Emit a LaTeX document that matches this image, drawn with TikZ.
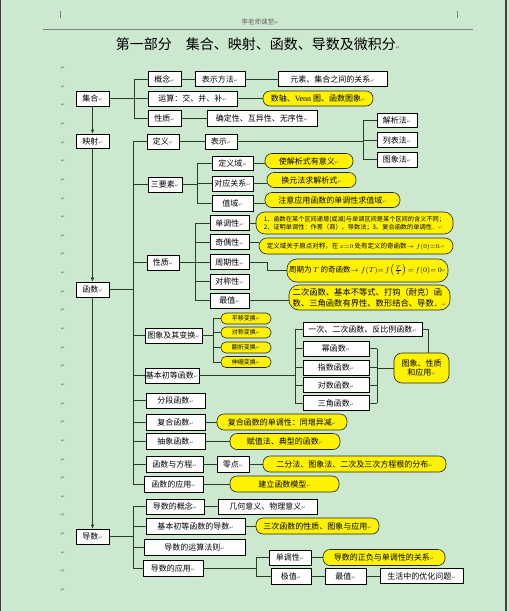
\documentclass[tikz,border=0pt]{standalone}
\usepackage{fontspec}
\setmainfont{Noto Sans CJK SC}
\newfontfamily\arrowfont{DejaVu Sans}
\newfontfamily\latinserif{Liberation Serif}
\usetikzlibrary{arrows.meta}
\definecolor{bgcol}{RGB}{204,232,207}
\definecolor{linkcol}{RGB}{40,60,40}
\definecolor{retcol}{RGB}{110,110,110}
\newcommand{\ret}{{\arrowfont\fontsize{5}{5}\selectfont\textcolor{retcol}{↵}}}

\begin{document}
\begin{tikzpicture}[x=1pt,y=-1pt]
    % Define styles for boxes and connectors
    \tikzset{
        whitebox/.style={draw=black, fill=white, line width=0.6pt, inner sep=0pt, minimum height=15pt, font=\fontsize{8}{9}\selectfont},
        yellownote/.style={draw=black!85, fill=yellow, line width=0.6pt, inner sep=0pt, minimum height=15pt, rounded corners=7pt, font=\fontsize{8}{9}\selectfont},
        smallnote/.style={yellownote, minimum width=50pt, minimum height=11pt, rounded corners=5pt, font=\fontsize{6}{6}\selectfont},
        link/.style={draw=linkcol, line width=0.7pt},
        downarrow/.style={link, -{Latex[length=4pt,width=3.5pt]}},
        retmark/.style={font=\arrowfont\fontsize{5}{5}\selectfont, text=retcol, inner sep=0pt}
    }

    % page
    \fill[bgcol] (0,0) rectangle (509,611);
    \useasboundingbox (0,0) rectangle (509,611);
    \draw[black!75, line width=1.2pt] (0.6,0) -- (0.6,611);
    \draw[black!75, line width=1.5pt] (506,0) -- (506,611);

    % header and title
    \draw[gray, line width=0.5pt] (43,29) -- (473,29);
    \draw[gray, line width=0.4pt] (60,11) -- (60,18);
    \draw[gray, line width=0.4pt] (457,11) -- (457,18);
    \node[font=\fontsize{6.5}{7}\selectfont, text=black!60] (header) at (260,22) {李老师课堂\ret};
    \node[font=\fontsize{14}{15}\selectfont] (title) at (258,44) {第一部分\quad 集合、映射、函数、导数及微积分\ret};

    % paragraph marks in the margin
    \foreach \i in {0,...,28} { \node[retmark] (mark\i) at (63,{68+18.64*\i}) {↵}; }

    % ==========================================
    % 集合
    % ==========================================
    \node[whitebox, minimum width=33pt] (jihe) at (92.5,98.5) {集合\ret};
    \node[whitebox, minimum width=33pt] (gainian) at (164.5,79) {概念\ret};
    \node[whitebox, minimum width=50pt] (fangfa) at (220,79) {表示方法\ret};
    \node[whitebox, minimum width=109pt] (guanxi) at (332.5,79) {元素、集合之间的关系\ret};
    \node[whitebox, minimum width=89pt] (yunsuan) at (192.5,98.5) {运算：交、并、补\ret};
    \node[yellownote, minimum width=110pt] (tuxiangA) at (318,98.5) {数轴、{\latinserif Venn} 图、函数图象\ret};
    \node[whitebox, minimum width=33pt, minimum height=16pt] (xingzhiA) at (164.5,118.5) {性质\ret};
    \node[whitebox, minimum width=110pt, minimum height=16pt] (texing) at (262,118.5) {确定性、互异性、无序性\ret};

    \coordinate (busJ) at (134,0);
    \draw[link] (jihe.east) -- (jihe.east -| busJ);
    \draw[link] (busJ |- gainian.west) -- (busJ |- xingzhiA.west);
    \foreach \n in {gainian, yunsuan, xingzhiA} { \draw[link] (busJ |- \n.west) -- (\n.west); }
    \draw[link] (gainian) -- (fangfa);
    \draw[link] (fangfa) -- (guanxi);
    \draw[link] (yunsuan) -- (tuxiangA);
    \draw[link] (xingzhiA) -- (texing);

    % ==========================================
    % 映射
    % ==========================================
    \node[whitebox, minimum width=33pt, minimum height=14pt] (yingshe) at (92.5,141) {映射\ret};
    \node[whitebox, minimum width=32pt] (dingyi) at (163,141.5) {定义\ret};
    \node[whitebox, minimum width=32pt] (biaoshi) at (221,141.5) {表示\ret};
    \node[whitebox, minimum width=40pt, minimum height=14pt] (jiexifa) at (397,120) {解析法\ret};
    \node[whitebox, minimum width=40pt] (liebiaofa) at (397,140) {列表法\ret};
    \node[whitebox, minimum width=40pt] (tuxiangfa) at (397,159.5) {图象法\ret};

    \draw[link] (dingyi) -- (biaoshi);
    \coordinate (busB) at (363,0);
    \draw[link] (biaoshi.east) -- (biaoshi.east -| busB);
    \draw[link] (busB |- jiexifa.west) -- (busB |- tuxiangfa.west);
    \foreach \n in {jiexifa, liebiaofa, tuxiangfa} { \draw[link] (busB |- \n.west) -- (\n.west); }

    % 三要素
    \node[whitebox, minimum width=34pt] (sanyaosu) at (165,184.5) {三要素\ret};
    \node[whitebox, minimum width=41pt, minimum height=14pt] (dingyiyu) at (232.5,163.5) {定义域\ret};
    \node[whitebox, minimum width=41pt] (duiying) at (232.5,183.5) {对应关系\ret};
    \node[whitebox, minimum width=41pt, minimum height=16pt] (zhiyu) at (232.5,203) {值域\ret};
    \node[yellownote, minimum width=88pt] (yiyi) at (309,161) {使解析式有意义\ret};
    \node[yellownote, minimum width=89pt] (huanyuan) at (311.5,180) {换元法求解析式\ret};
    \node[yellownote, minimum width=135pt] (qiuzhiyu) at (332.5,200) {注意应用函数的单调性求值域\ret};

    \coordinate (busS) at (197,0);
    \draw[link] (sanyaosu.east) -- (sanyaosu.east -| busS);
    \draw[link] (busS |- dingyiyu.west) -- (busS |- zhiyu.west);
    \foreach \n in {dingyiyu, duiying, zhiyu} { \draw[link] (busS |- \n.west) -- (\n.west); }
    \draw[link] (dingyiyu.east) -- (dingyiyu.east -| yiyi.west);
    \draw[link] (duiying.east) -- (duiying.east -| huanyuan.west);
    \draw[link] (zhiyu.east) -- (zhiyu.east -| qiuzhiyu.west);

    % ==========================================
    % 函数
    % ==========================================
    \node[whitebox, minimum width=33pt] (hanshu) at (92.5,289.5) {函数\ret};

    % 性质
    \node[whitebox, minimum width=32pt] (xingzhiB) at (163,262.5) {性质\ret};
    \foreach \n/\t/\y in {dandiao/单调性/223, jiou/奇偶性/242, zhouqi/周期性/262, duichen/对称性/281.5, zuizhi/最值/300.5} {
        \node[whitebox, minimum width=39pt] (\n) at (229.5,\y) {\t\ret};
    }
    \node[yellownote, minimum width=197pt, minimum height=22pt, rounded corners=9pt, align=left, font=\fontsize{6.2}{8}\selectfont] (dandiaonote) at (354.5,223)
        {1、函数在某个区间递增(或减)与单调区间是某个区间的含义不同；\\2、证明单调性：作差（商）、导数法；3、复合函数的单调性．\ret};
    \node[yellownote, minimum width=194pt, minimum height=16pt, rounded corners=8pt, font=\fontsize{6.5}{8}\selectfont] (jiounote) at (356,246)
        {定义域关于原点对称，在 $x{=}0$ 处有定义的奇函数$\to f(0){=}0$.\ret};
    \node[yellownote, minimum width=161pt, minimum height=23pt, rounded corners=10pt, font=\fontsize{7.5}{9}\selectfont] (zhouqinote) at (367.5,270.5)
        {周期为 $T$ 的奇函数$\to f(T){=}\,f\!\left(\frac{T}{2}\right){=}\,f(0){=}\,0$\ret};
    \node[yellownote, minimum width=161pt, minimum height=25pt, rounded corners=10pt, align=left, font=\fontsize{8.3}{11}\selectfont] (zuizhinote) at (369.5,297.5)
        {二次函数、基本不等式、打钩（耐克）函\\数、三角函数有界性、数形结合、导数．\ret};

    \coordinate (busX) at (195,0);
    \draw[link] (xingzhiB.east) -- (xingzhiB.east -| busX);
    \draw[link] (busX |- dandiao.west) -- (busX |- zuizhi.west);
    \foreach \n in {dandiao, jiou, zhouqi, duichen, zuizhi} { \draw[link] (busX |- \n.west) -- (\n.west); }
    \draw[link] (dandiao.east) -- (dandiao.east -| dandiaonote.west);
    \draw[link] (jiou.east) -- (jiou.east -| jiounote.west);
    \draw[link] (zhouqi.east) -- ++(18,0) |- (zhouqinote.west);
    \draw[link] (zuizhi.east) -- (zuizhi.east -| zuizhinote.west);

    % 图象及其变换
    \node[whitebox, minimum width=57pt] (tuxiang) at (173.5,335.5) {图象及其变换\ret};
    \foreach \n/\t/\y in {pingyi/平移变换/318.5, duichenT/对称变换/332.5, fanzhe/翻折变换/347.5, shensuo/伸缩变换/362} {
        \node[smallnote] (\n) at (246,\y) {\t\ret};
    }
    \coordinate (busT) at (213,0);
    \draw[link] (tuxiang.east) -- (tuxiang.east -| busT);
    \draw[link] (busT |- pingyi.west) -- (busT |- shensuo.west);
    \foreach \n in {pingyi, duichenT, fanzhe, shensuo} { \draw[link] (busT |- \n.west) -- (\n.west); }

    % 基本初等函数
    \node[whitebox, minimum width=54pt] (jiben) at (172,375.5) {基本初等函数\ret};
    \node[whitebox, minimum width=119pt, minimum height=14pt] (yici) at (362.5,329) {一次、二次函数、反比例函数\ret};
    \foreach \n/\t/\y in {mi/幂函数/348.5, zhishu/指数函数/367.5, duishu/对数函数/385, sanjiao/三角函数/403} {
        \node[whitebox, minimum width=66pt] (\n) at (336,\y) {\t\ret};
    }
    \node[yellownote, minimum width=55pt, minimum height=30pt, rounded corners=8pt, align=center] (yingyongT) at (421.5,368) {图象、性质\\和应用\ret};

    \coordinate (busF) at (295,0);
    \draw[link] (jiben.east) -- (jiben.east -| busF);
    \draw[link] (busF |- yici.west) -- (busF |- sanjiao.west);
    \foreach \n in {yici, mi, zhishu, duishu, sanjiao} { \draw[link] (busF |- \n.west) -- (\n.west); }
    \coordinate (busR) at (377,0);
    \foreach \n in {mi, zhishu, duishu, sanjiao} { \draw[link] (\n.east) -- (\n.east -| busR); }
    \draw[link] (busR |- mi.east) -- (busR |- sanjiao.east);
    \draw[link] (busR |- yingyongT.west) -- (yingyongT.west);
    \coordinate (busU) at (428,0);
    \draw[link] (yici.east) -| (busU |- yingyongT.north);

    % other rows
    \node[whitebox, minimum width=59pt] (fenduan) at (175.5,400.5) {分段函数\ret};
    \node[whitebox, minimum width=59pt, minimum height=16pt] (fuhe) at (175.5,422) {复合函数\ret};
    \node[yellownote, minimum width=130pt, minimum height=16pt] (tongzeng) at (282,422) {复合函数的单调性：同增异减\ret};
    \node[whitebox, minimum width=59pt, minimum height=16pt] (chouxiang) at (175.5,441.5) {抽象函数\ret};
    \node[yellownote, minimum width=110pt, minimum height=16pt] (fuzhi) at (285,441.5) {赋值法、典型的函数\ret};
    \node[whitebox, minimum width=57pt, minimum height=16pt] (fangcheng) at (174.5,464) {函数与方程\ret};
    \node[whitebox, minimum width=32pt, minimum height=16pt] (lingdian) at (233,464) {零点\ret};
    \node[yellownote, minimum width=183pt, minimum height=16pt] (erfen) at (354.5,464) {二分法、图象法、二次及三次方程根的分布\ret};
    \node[whitebox, minimum width=59pt, minimum height=16pt] (yingyong) at (173.5,484) {函数的应用\ret};
    \node[yellownote, minimum width=109pt, minimum height=16pt] (moxing) at (284.5,484) {建立函数模型\ret};

    \draw[link] (fuhe) -- (tongzeng);
    \draw[link] (chouxiang) -- (fuzhi);
    \draw[link] (fangcheng) -- (lingdian);
    \draw[link] (lingdian) -- (erfen);
    \draw[link] (yingyong) -- (moxing);

    % main bus of 函数
    \coordinate (busH) at (133,0);
    \draw[link] (hanshu.east) -- (hanshu.east -| busH);
    \draw[link] (busH |- dingyi.west) -- (busH |- yingyong.west);
    \foreach \n in {dingyi, sanyaosu, xingzhiB, tuxiang, jiben, fenduan, fuhe, chouxiang, fangcheng, yingyong} {
        \draw[link] (busH |- \n.west) -- (\n.west);
    }

    % ==========================================
    % 导数
    % ==========================================
    \node[whitebox, minimum width=33pt] (daoshu) at (92.5,536.5) {导数\ret};
    \node[whitebox, minimum width=58pt] (gainianD) at (175,506.5) {导数的概念\ret};
    \node[whitebox, minimum width=99pt] (yiyiD) at (267.5,506.5) {几何意义、物理意义\ret};
    \node[whitebox, minimum width=99pt, minimum height=16pt] (jibenD) at (195.5,526) {基本初等函数的导数\ret};
    \node[yellownote, minimum width=123pt, minimum height=16pt] (sanci) at (317.5,526) {三次函数的性质、图象与应用\ret};
    \node[whitebox, minimum width=101pt, minimum height=16pt] (fazeD) at (194.5,547) {导数的运算法则\ret};
    \node[whitebox, minimum width=60pt, minimum height=16pt] (yingyongD) at (173,568) {导数的应用\ret};
    \node[whitebox, minimum width=42pt] (dandiaoD) at (290,557.5) {单调性\ret};
    \node[yellownote, minimum width=122pt, minimum height=16pt] (zhengfu) at (384,557.5) {导数的正负与单调性的关系\ret};
    \node[whitebox, minimum width=40pt, minimum height=16pt] (jizhi) at (291,576) {极值\ret};
    \node[whitebox, minimum width=41pt, minimum height=16pt] (zuizhiD) at (345.5,576) {最值\ret};
    \node[whitebox, minimum width=83pt] (youhua) at (421.5,576) {生活中的优化问题\ret};

    \coordinate (busD) at (133,0);
    \draw[link] (daoshu.east) -- (daoshu.east -| busD);
    \draw[link] (busD |- gainianD.west) -- (busD |- yingyongD.west);
    \foreach \n in {gainianD, jibenD, fazeD, yingyongD} { \draw[link] (busD |- \n.west) -- (\n.west); }
    \draw[link] (gainianD) -- (yiyiD);
    \draw[link] (jibenD) -- (sanci);
    \coordinate (busY) at (256,0);
    \draw[link] (yingyongD.east) -- (yingyongD.east -| busY);
    \draw[link] (busY |- dandiaoD.west) -- (busY |- jizhi.west);
    \foreach \n in {dandiaoD, jizhi} { \draw[link] (busY |- \n.west) -- (\n.west); }
    \draw[link] (dandiaoD) -- (zhengfu);
    \draw[link] (jizhi) -- (zuizhiD);
    \draw[link] (zuizhiD) -- (youhua);

    % ==========================================
    % arrows down the left column
    % ==========================================
    \draw[downarrow] (jihe) -- (yingshe);
    \draw[downarrow] (yingshe) -- (hanshu);
    \draw[downarrow] (hanshu) -- (daoshu);
\end{tikzpicture}
\end{document}
